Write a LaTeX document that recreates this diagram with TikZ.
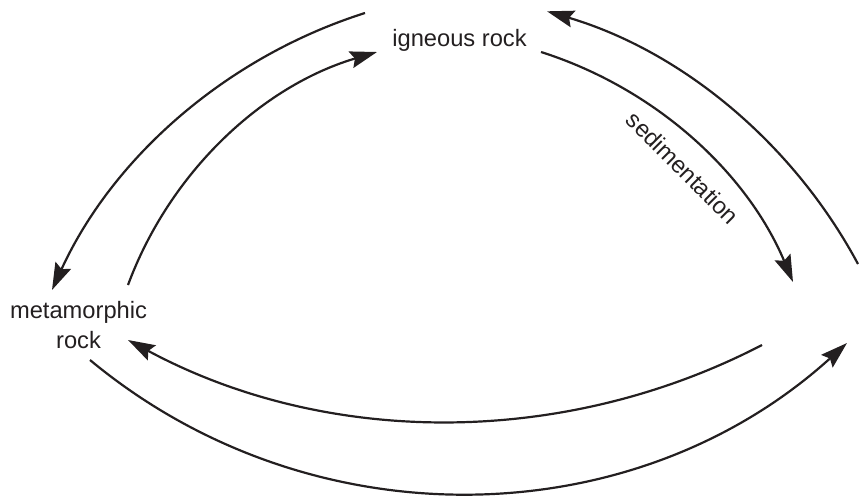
\documentclass[tikz,border=0pt]{standalone}
\usepackage{fontspec}
\setmainfont{Liberation Sans}
\usetikzlibrary{arrows.meta}
\definecolor{ink}{RGB}{35,31,32}
\begin{document}
\begin{tikzpicture}[x=1pt,y=-1pt,
  lbl/.style={font=\fontsize{23.7}{30}\selectfont, text=ink, inner sep=0pt},
  flow/.style={draw=ink, line width=2.2pt, -{Stealth[length=27pt,width=17pt,inset=4pt]}}]
\useasboundingbox (0,0) rectangle (860,496);
% nodes
\node[lbl, anchor=base] (ig) at (459.5,46.7) {igneous rock};
\node[lbl, align=center, anchor=center] (meta) at (78.5,325) {metamorphic\\rock};
% connector end points
\coordinate (ig-w1) at (365,13);
\coordinate (ig-w2) at (377,52);
\coordinate (ig-e1) at (541,52);
\coordinate (ig-e2) at (547,11.3);
\coordinate (me-n1) at (52,290);
\coordinate (me-n2) at (128,285);
\coordinate (me-e1) at (128,340);
\coordinate (me-s) at (90,360);
\coordinate (sed-n1) at (793,282);
\coordinate (sed-e) at (858,264);
\coordinate (sed-w) at (762,345);
\coordinate (sed-s) at (847,343);
% igneous -> metamorphic
\draw[flow] (ig-w1) .. controls (226.2,57.0) and (112.6,157.6) .. (me-n1);
% metamorphic -> igneous
\draw[flow] (me-n2) .. controls (169.7,172.4) and (261.8,86.1) .. (ig-w2);
% igneous -> sedimentary (sedimentation)
\draw[flow] (ig-e1) .. controls (654.7,88.1) and (746.8,172.0) .. (sed-n1);
\node[lbl, rotate=-45] (sedlbl) at (683,168) {sedimentation};
% sedimentary -> igneous
\draw[flow] (sed-e) .. controls (792.3,141.5) and (680.3,50.7) .. (ig-e2);
% sedimentary -> metamorphic
\draw[flow] (sed-w) .. controls (562.7,448.3) and (325.7,446.4) .. (me-e1);
% metamorphic -> sedimentary
\draw[flow] (me-s) .. controls (311.2,543.7) and (634.0,536.1) .. (sed-s);
\end{tikzpicture}
\end{document}
